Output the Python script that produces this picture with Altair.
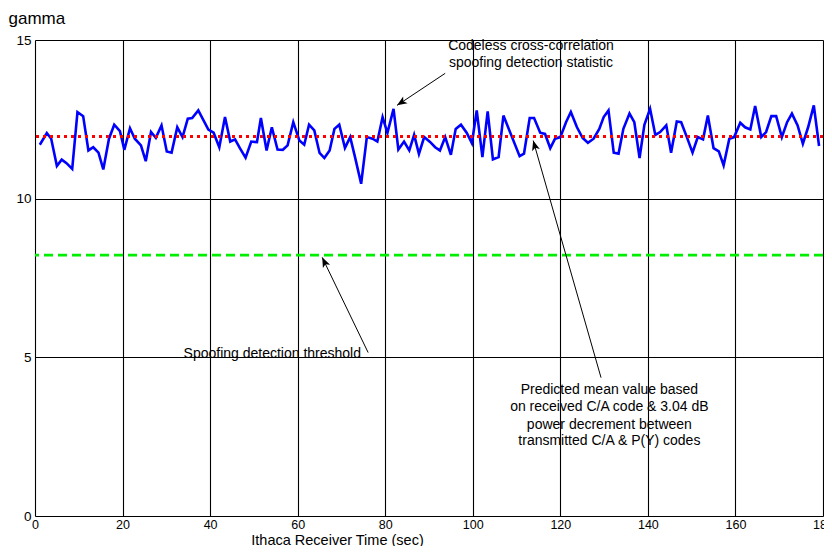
import math
import altair as alt
import pandas as pd

# ---- data ----
time_s = [1.1, 2.7, 3.7, 5.0, 6.1, 7.2, 8.5, 9.7, 11.0, 12.2, 13.3, 14.5, 15.6, 16.9, 18.1, 19.4,
          20.4, 21.7, 22.8, 24.2, 25.3, 26.5, 27.6, 28.9, 30.1, 31.2, 32.5, 33.7, 34.9, 35.9,
          37.3, 39.6, 40.8, 42.1, 43.4, 44.6, 45.7, 46.8, 48.1, 49.4, 50.7, 51.6, 52.9, 54.1,
          55.4, 56.6, 57.7, 59.0, 60.4, 61.5, 62.6, 63.8, 65.0, 66.1, 67.3, 68.4, 69.5, 70.8,
          72.0, 73.1, 74.5, 75.8, 77.1, 78.2, 79.4, 80.5, 81.9, 83.0, 84.3, 85.5, 86.6, 87.7,
          88.9, 90.3, 91.4, 92.5, 93.7, 95.0, 96.1, 97.3, 98.6, 99.8, 100.9, 102.2, 103.4,
          104.6, 105.9, 107.0, 110.7, 111.7, 113.0, 114.0, 115.4, 116.5, 117.7, 118.8, 120.0,
          121.3, 122.4, 123.8, 125.1, 126.3, 127.6, 128.9, 129.9, 131.0, 132.2, 133.3, 134.4,
          135.8, 136.9, 138.1, 139.2, 140.5, 141.7, 142.8, 144.2, 145.3, 146.6, 147.6, 148.9,
          150.2, 151.4, 152.6, 153.7, 155.0, 156.2, 157.3, 158.6, 159.7, 161.1, 162.2, 163.4,
          164.5, 165.9, 167.0, 168.2, 169.3, 170.6, 171.8, 172.9, 174.2, 175.4, 176.6, 177.9,
          179.1]
gamma = [11.70, 12.07, 11.89, 11.03, 11.23, 11.12, 10.94, 12.73, 12.60, 11.52, 11.62, 11.45,
         10.92, 11.89, 12.33, 12.13, 11.54, 12.22, 11.89, 11.68, 11.18, 12.10, 11.92, 12.31,
         11.49, 11.45, 12.25, 11.94, 12.52, 12.54,
         12.78, 12.18, 12.08, 11.62, 12.57, 11.80, 11.87, 11.59, 11.29, 11.80, 11.78, 12.54,
         11.52, 12.25, 11.55, 11.54, 11.68, 12.41, 11.83, 11.70, 12.33, 12.15, 11.44, 11.28,
         11.52, 12.20, 12.33, 11.60,
         11.94, 11.31, 10.47, 11.94, 11.89, 11.80, 12.57, 12.07, 12.83, 11.55, 11.80, 11.52,
         12.01, 11.41, 11.94, 11.78, 11.62, 11.52, 11.94, 11.38, 12.20, 12.33, 12.08, 11.75,
         12.78, 11.31, 12.75, 11.24, 11.31, 12.62,
         11.34, 11.42, 12.54, 12.54, 12.08, 12.04, 11.59, 11.89, 11.94, 12.41, 12.73, 12.25,
         11.91, 11.76, 11.89, 12.20, 12.57, 12.78, 11.45, 11.42, 12.20, 12.68, 12.41, 11.28,
         12.33, 12.83, 12.01,
         12.10, 12.31, 11.45, 12.43, 12.41, 11.94, 11.45, 11.94, 11.87, 12.62, 11.59, 11.49,
         11.05, 11.89, 11.94, 12.39, 12.25, 12.18, 12.92, 11.94, 12.10, 12.60, 12.60, 11.94,
         12.41, 12.68, 12.31, 11.73, 12.25, 12.94, 11.66]
predicted_mean = [11.96]
threshold = [8.22]

x_ticks = [0, 20, 40, 60, 80, 100, 120, 140, 160, 180]
y_ticks = [0, 5, 10, 15]

ann_text = ["Codeless cross-correlation", "spoofing detection statistic",
            "Spoofing detection threshold",
            "Predicted mean value based", "on received C/A code & 3.04 dB",
            "power decrement between", "transmitted C/A & P(Y) codes"]
ann_t = [113.3, 113.3, 54.2, 131.2, 131.2, 131.2, 131.2]
ann_v = [14.80, 14.26, 5.12, 3.96, 3.42, 2.88, 2.35]

arrow_tail_t = [93.7, 76.1, 129.3]
arrow_tail_v = [13.95, 5.15, 4.36]
arrow_tip_t = [82.7, 65.6, 113.8]
arrow_tip_v = [12.94, 8.15, 11.83]

# ---- layout ----
W, H = 788, 476
PX_T = W / 180.0
PX_V = H / 15.0
FONT = "Liberation Sans"

xs = alt.Scale(domain=[0, 180], nice=False, zero=False)
ys = alt.Scale(domain=[0, 15], nice=False, zero=False)

df = pd.DataFrame({"t": time_s, "g": gamma})

base_x = alt.X("t:Q", scale=xs, axis=alt.Axis(
    values=x_ticks, title="Ithaca Receiver Time (sec)", grid=True, gridColor="black",
    gridWidth=1.1, gridOpacity=1, ticks=False, domain=False, labelPadding=2,
    labelFontSize=12.5, labelFont=FONT, labelColor="black",
    titleFont=FONT, titleFontSize=14.5, titleFontWeight="normal", titleColor="black",
    titleX=302, titleY=28, titleAlign="center", titleBaseline="alphabetic",
    labelFlush=False, labelOverlap=False))
base_y = alt.Y("g:Q", scale=ys, axis=alt.Axis(
    values=y_ticks, title="gamma", grid=True, gridColor="black", gridWidth=1.1,
    gridOpacity=1, ticks=False, domain=False, labelPadding=4,
    labelFontSize=13.5, labelFont=FONT, labelColor="black",
    titleFont=FONT, titleFontSize=17, titleFontWeight="normal", titleColor="black",
    titleAngle=0, titleX=-27, titleY=-21.5, titleAlign="left", titleBaseline="middle",
    labelFlush=False, labelOverlap=False))

line = alt.Chart(df).mark_line(color="#0000FF", strokeWidth=2.6, clip=True).encode(
    x=base_x, y=base_y)

mean_rule = alt.Chart(pd.DataFrame({"g": predicted_mean})).mark_rule(
    color="#FF0000", strokeWidth=3, strokeDash=[3, 4]).encode(y=alt.Y("g:Q", scale=ys))
thr_rule = alt.Chart(pd.DataFrame({"g": threshold})).mark_rule(
    color="#00EE00", strokeWidth=2.6, strokeDash=[9, 5]).encode(y=alt.Y("g:Q", scale=ys))

text = alt.Chart(pd.DataFrame({"t": ann_t, "g": ann_v, "s": ann_text})).mark_text(
    font=FONT, fontSize=14, color="black", align="center", baseline="middle").encode(
    x=alt.X("t:Q", scale=xs), y=alt.Y("g:Q", scale=ys), text="s:N")

angles = []
for a, b, c, d in zip(arrow_tail_t, arrow_tail_v, arrow_tip_t, arrow_tip_v):
    dx = (c - a) * PX_T
    dy = -(d - b) * PX_V
    angles.append(math.degrees(math.atan2(dx, -dy)) % 360)

arr_df = pd.DataFrame({"t": arrow_tail_t, "g": arrow_tail_v, "t2": arrow_tip_t,
                       "g2": arrow_tip_v, "ang": angles})
arrow_lines = alt.Chart(arr_df).mark_rule(color="black", strokeWidth=1).encode(
    x=alt.X("t:Q", scale=xs), y=alt.Y("g:Q", scale=ys), x2="t2:Q", y2="g2:Q")
heads = alt.Chart(arr_df).mark_point(
    shape="M0,0 L-0.4,1 L0,0.75 L0.4,1 Z", filled=True, size=400, color="black",
    opacity=1, strokeWidth=0).encode(
    x=alt.X("t2:Q", scale=xs), y=alt.Y("g2:Q", scale=ys),
    angle=alt.Angle("ang:Q", scale=None))

chart = alt.layer(line, mean_rule, thr_rule, arrow_lines, heads, text).properties(
    width=W, height=H,
    autosize=alt.AutoSizeParams(type="none"),
    padding={"left": 27, "top": 32, "right": 1, "bottom": 30},
).configure_view(stroke="black", strokeWidth=2).configure(background="white")

chart.save("out.html", embed_options={"renderer": "svg", "actions": False})
